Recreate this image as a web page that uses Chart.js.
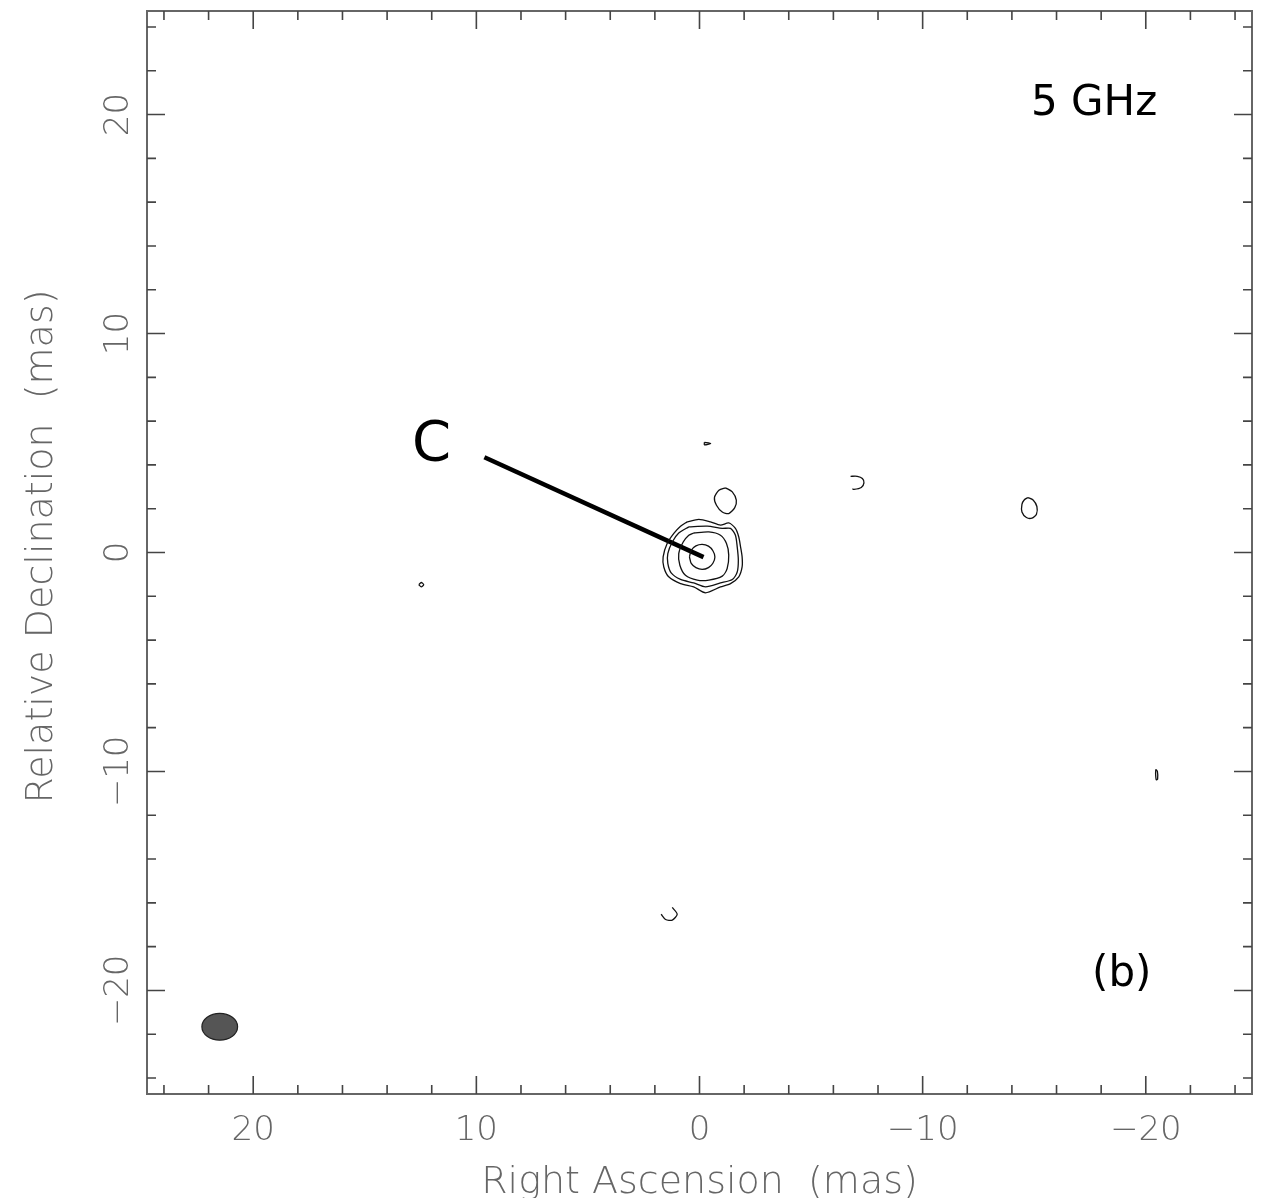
<!DOCTYPE html>
<html>
<head>
<meta charset="utf-8">
<script src="https://cdn.jsdelivr.net/npm/chart.js@4.4.1/dist/chart.umd.min.js"></script>
<style>
  body { margin: 0; background: #fff; }
  #wrap { width: 1268px; height: 1198px; }
</style>
</head>
<body>
<div id="wrap"><canvas id="map" width="1268" height="1198"></canvas></div>
<script>
// tick labels (mas)
const xTickLabels = [20, 10, 0, -10, -20];
const yTickLabels = [20, 10, 0, -10, -20];
const majorTicks = [-20, -10, 0, 10, 20];
const minorTicks = [-24, -22, -18, -16, -14, -12, -8, -6, -4, -2, 2, 4, 6, 8, 12, 14, 16, 18, 22, 24];

// contours, [RA, Dec] in mas
const coreLevel1 = [[0.55,1.40],[0.03,1.51],[-0.49,1.40],[-0.94,1.25],[-1.31,1.35],[-1.61,1.10],[-1.76,0.71],[-1.84,0.26],[-1.91,-0.20],[-1.91,-0.66],[-1.76,-1.11],[-1.39,-1.42],[-0.94,-1.57],[-0.27,-1.84],[0.26,-1.57],[0.85,-1.42],[1.38,-1.11],[1.60,-0.66],[1.63,-0.20],[1.45,0.41],[1.15,0.87],[0.85,1.20],[0.55,1.40]];
const coreLevel2 = [[0.48,1.17],[-0.35,1.20],[-1.02,1.10],[-1.39,1.10],[-1.61,0.79],[-1.69,0.26],[-1.74,-0.35],[-1.69,-0.89],[-1.47,-1.23],[-0.94,-1.39],[-0.27,-1.57],[0.26,-1.39],[0.85,-1.23],[1.27,-0.93],[1.42,-0.50],[1.42,-0.05],[1.22,0.48],[0.93,0.89],[0.48,1.17]];
const coreLevel3 = [[0.26,0.89],[-0.42,0.94],[-0.94,0.79],[-1.21,0.41],[-1.31,-0.12],[-1.24,-0.73],[-1.02,-1.08],[-0.42,-1.26],[0.10,-1.26],[0.63,-1.04],[0.88,-0.58],[0.93,-0.05],[0.73,0.48],[0.48,0.79],[0.26,0.89]];
const coreLevel4 = [[0.45,-0.20],[0.37,0.10],[0.16,0.30],[-0.12,0.37],[-0.40,0.29],[-0.60,0.08],[-0.69,-0.20],[-0.60,-0.49],[-0.40,-0.69],[-0.12,-0.77],[0.16,-0.69],[0.37,-0.50],[0.45,-0.20]];
const blobNE = [[-1.17,2.95],[-1.47,2.77],[-1.65,2.39],[-1.58,2.05],[-1.31,1.78],[-1.02,1.85],[-0.76,2.16],[-0.67,2.51],[-0.87,2.84],[-1.17,2.95]];
const spotN = [[-0.22,5.03],[-0.50,4.98],[-0.22,4.92],[-0.22,5.03]];
const spotE = [[-6.77,3.48],[-7.07,3.48],[-7.30,3.38],[-7.37,3.18],[-7.25,2.97],[-6.92,2.88],[-6.85,2.91]];
const spotW = [[-14.72,2.51],[-14.95,2.40],[-15.12,2.10],[-15.10,1.75],[-14.90,1.57],[-14.65,1.60],[-14.45,1.85],[-14.45,2.20],[-14.55,2.40],[-14.72,2.51]];
const spotL = [[12.58,-1.47],[12.47,-1.37],[12.36,-1.47],[12.47,-1.57],[12.58,-1.47]];
const spotS = [[1.72,-16.52],[1.52,-16.76],[1.22,-16.79],[1.00,-16.52],[1.22,-16.21]];
const spotSW = [[-20.45,-9.90],[-20.52,-10.00],[-20.53,-10.35],[-20.47,-10.38],[-20.44,-10.10],[-20.45,-9.90]];

const contours = [coreLevel1, coreLevel2, coreLevel3, coreLevel4, blobNE, spotN, spotE, spotW, spotL, spotS, spotSW];

// component label pointer and beam
const pointerLine = [[9.64, 4.35], [-0.18, -0.21]];
const beamCenter = [21.5, -21.66];
const beamAxes = [0.80, 0.61];

const xRange = [-24.76, 24.76];
const yRange = [-24.73, 24.73];

const thinFont = (px) => '200 ' + px + 'px "DejaVu Sans ExtraLight", "DejaVu Sans Light", "DejaVu Sans", sans-serif';

const toPts = arr => arr.map(p => ({ x: p[0], y: p[1] }));

const datasets = contours.map(c => ({
    data: toPts(c),
    showLine: true,
    borderColor: '#111',
    borderWidth: 1.3,
    pointRadius: 0,
    tension: 0.25,
    fill: false
}));
datasets.push({
    data: toPts(pointerLine),
    showLine: true,
    borderColor: '#000',
    borderWidth: 4.5,
    pointRadius: 0,
    fill: false
});

const framePlugin = {
    id: 'frame',
    beforeDatasetsDraw(chart) {
        const { ctx, scales: { x, y } } = chart;
        // restoring beam
        const cx = x.getPixelForValue(beamCenter[0]);
        const cy = y.getPixelForValue(beamCenter[1]);
        const rx = Math.abs(x.getPixelForValue(beamCenter[0] + beamAxes[0]) - cx);
        const ry = Math.abs(y.getPixelForValue(beamCenter[1] + beamAxes[1]) - cy);
        ctx.save();
        ctx.beginPath();
        ctx.ellipse(cx, cy, rx, ry, 0, 0, Math.PI * 2);
        ctx.fillStyle = '#555';
        ctx.fill();
        ctx.lineWidth = 1.2;
        ctx.strokeStyle = '#222';
        ctx.stroke();
        ctx.restore();
    },
    afterDraw(chart) {
        const { ctx, chartArea: a, scales: { x, y } } = chart;
        ctx.save();
        ctx.strokeStyle = '#666';
        ctx.lineWidth = 2;
        ctx.strokeRect(a.left, a.top, a.right - a.left, a.bottom - a.top);

        // ticks, inside on all four sides
        ctx.lineWidth = 1.6;
        ctx.strokeStyle = '#444';
        const drawTicks = (vals, len) => {
            vals.forEach(v => {
                const px = x.getPixelForValue(v);
                const py = y.getPixelForValue(v);
                ctx.beginPath();
                ctx.moveTo(px, a.bottom); ctx.lineTo(px, a.bottom - len);
                ctx.moveTo(px, a.top); ctx.lineTo(px, a.top + len);
                ctx.moveTo(a.left, py); ctx.lineTo(a.left + len, py);
                ctx.moveTo(a.right, py); ctx.lineTo(a.right - len, py);
                ctx.stroke();
            });
        };
        drawTicks(majorTicks, 18);
        drawTicks(minorTicks, 9);

        const fmt = v => v < 0 ? '\u2212' + Math.abs(v) : String(v);

        // tick labels
        ctx.fillStyle = '#666';
        ctx.font = thinFont(34);
        ctx.textAlign = 'center';
        ctx.textBaseline = 'alphabetic';
        xTickLabels.forEach(v => {
            ctx.fillText(fmt(v), x.getPixelForValue(v), a.bottom + 46);
        });
        yTickLabels.forEach(v => {
            ctx.save();
            ctx.translate(a.left - 19, y.getPixelForValue(v));
            ctx.rotate(-Math.PI / 2);
            ctx.fillText(fmt(v), 0, 0);
            ctx.restore();
        });

        // axis titles
        ctx.font = thinFont(38);
        ctx.fillText('Right Ascension  (mas)', (a.left + a.right) / 2, a.bottom + 99);
        ctx.save();
        ctx.translate(a.left - 95, (a.top + a.bottom) / 2 - 6);
        ctx.rotate(-Math.PI / 2);
        ctx.fillText('Relative Declination  (mas)', 0, 0);
        ctx.restore();

        // annotations
        ctx.fillStyle = '#000';
        ctx.font = '42px "DejaVu Sans", sans-serif';
        ctx.textAlign = 'left';
        ctx.fillText('5 GHz', 1031, 115);
        ctx.fillText('(b)', 1092, 986);
        ctx.font = '56px "DejaVu Sans", sans-serif';
        ctx.fillText('C', 412, 460);
        ctx.restore();
    }
};

new Chart(document.getElementById('map'), {
    type: 'scatter',
    data: { datasets: datasets },
    options: {
        responsive: false,
        animation: false,
        layout: { padding: { left: 147, right: 16, top: 11, bottom: 104 } },
        plugins: { legend: { display: false }, tooltip: { enabled: false } },
        scales: {
            x: { type: 'linear', min: xRange[0], max: xRange[1], reverse: true, display: false },
            y: { type: 'linear', min: yRange[0], max: yRange[1], display: false }
        }
    },
    plugins: [framePlugin]
});
</script>
</body>
</html>
